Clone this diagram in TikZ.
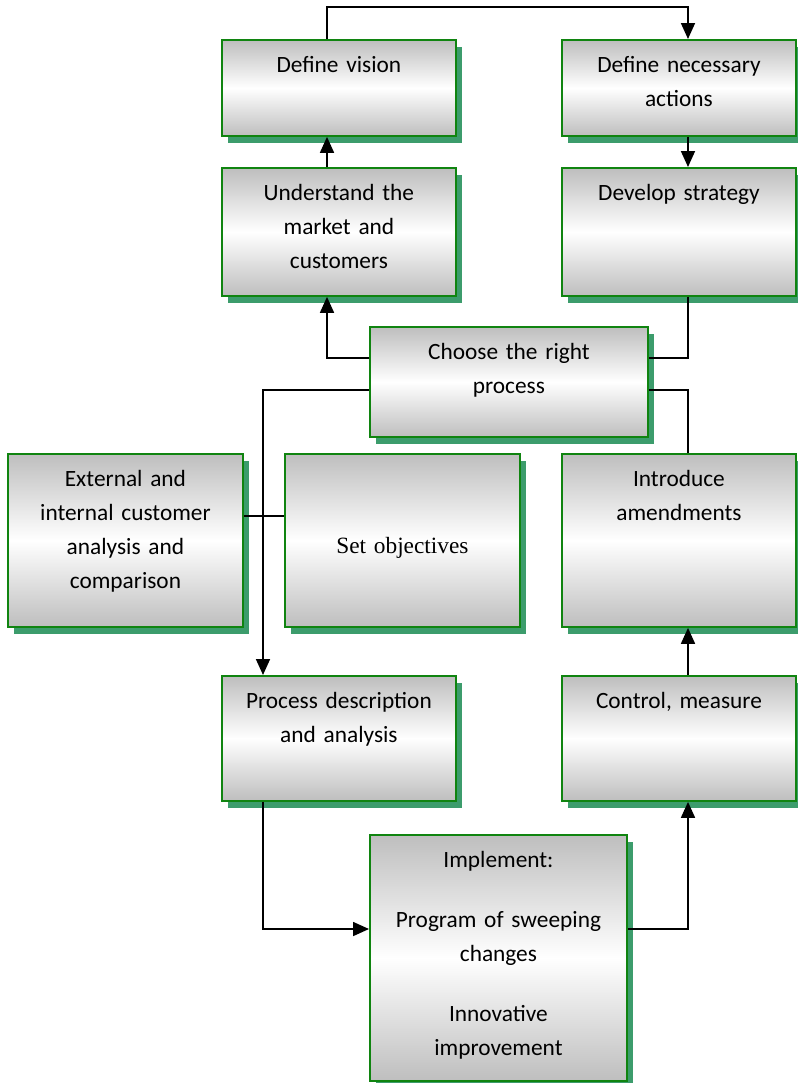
\documentclass[tikz,border=0pt]{standalone}
\usepackage{fontspec}
\newfontfamily\calibri{Carlito}
\newfontfamily\timesfont{Liberation Serif}
\usetikzlibrary{shapes,arrows.meta,positioning,shadows}

\definecolor{boxgreen}{RGB}{16,132,16}
\definecolor{boxgray}{RGB}{190,190,190}
\definecolor{shadowgreen}{HTML}{3C9C6C}

\begin{document}
\begin{tikzpicture}[
    x=0.75pt, y=-0.75pt,
    procbox/.style 2 args={rectangle, draw=boxgreen, line width=1.4pt,
        top color=boxgray, bottom color=boxgray, middle color=white,
        drop shadow={shadow xshift=4.5pt, shadow yshift=-5pt, opacity=1, fill=shadowgreen},
        font=\calibri\fontsize{17.5pt}{25.5pt}\selectfont, align=center,
        anchor=north west, inner sep=0pt,
        text width=#1, text height=24.75pt, text depth=#2},
    flowline/.style={-{Triangle[length=12pt,width=10.5pt]}, line width=1.3pt},
    linkline/.style={line width=0.9pt}
]
\useasboundingbox (0,0) rectangle (798,1083);

% Helper lines
\coordinate (lcol) at (327,0);
\coordinate (mcol) at (263,0);
\coordinate (rcol) at (688,0);
\coordinate (topline) at (0,7);
\coordinate (upper) at (0,358);
\coordinate (lower) at (0,390);
\coordinate (midrow) at (0,516);
\coordinate (botrow) at (0,929);

% Top row
\node[procbox={175.5pt}{47.25pt}] (vision) at (221,39) {Define vision};
\node[procbox={175.5pt}{47.25pt}] (actions) at (561,39) {Define necessary\\actions};

% Second row
\node[procbox={175.5pt}{71.25pt}] (understand) at (221,167) {Understand the\\market and\\customers};
\node[procbox={175.5pt}{71.25pt}] (strategy) at (561,167) {Develop strategy};

% Process choice
\node[procbox={208.5pt}{57.75pt}] (choose) at (369,326) {Choose the right\\process};

% Third row
\node[procbox={176.25pt}{105pt}] (external) at (7,453) {External and\\internal customer\\analysis and\\comparison};
\node[procbox={176.25pt}{54.75pt}, text height=75pt, font=\timesfont\fontsize{17.5pt}{25.5pt}\selectfont] (objectives) at (284,453) {Set objectives};
\node[procbox={175.5pt}{105pt}] (amendments) at (561,453) {Introduce\\amendments};

% Fourth row
\node[procbox={175.5pt}{69pt}] (procdesc) at (221,675) {Process description\\and analysis};
\node[procbox={175.5pt}{69pt}] (control) at (561,675) {Control, measure};

% Implementation
\node[procbox={192.75pt}{159.75pt}] (implement) at (369,834) {Implement:\\[19.5pt]Program of sweeping\\changes\\[19.5pt]Innovative\\improvement};

% Arrows
\draw[flowline] (vision.north -| lcol) |- (topline -| rcol) -- (actions.north -| rcol);
\draw[flowline] (actions.south -| rcol) -- (strategy.north -| rcol);
\draw[flowline] (understand.north -| lcol) -- (vision.south -| lcol);
\draw[flowline] (choose.west |- upper) -| (understand.south -| lcol);
\draw[flowline] (choose.west |- lower) -| (procdesc.north -| mcol);
\draw[flowline] (procdesc.south -| mcol) |- (implement.west |- botrow);
\draw[flowline] (implement.east |- botrow) -| (control.south -| rcol);
\draw[flowline] (control.north -| rcol) -- (amendments.south -| rcol);

% Plain links
\draw[linkline] (strategy.south -| rcol) |- (choose.east |- upper);
\draw[linkline] (choose.east |- lower) -| (amendments.north -| rcol);
\draw[linkline] (external.east |- midrow) -- (objectives.west |- midrow);

\end{tikzpicture}
\end{document}
